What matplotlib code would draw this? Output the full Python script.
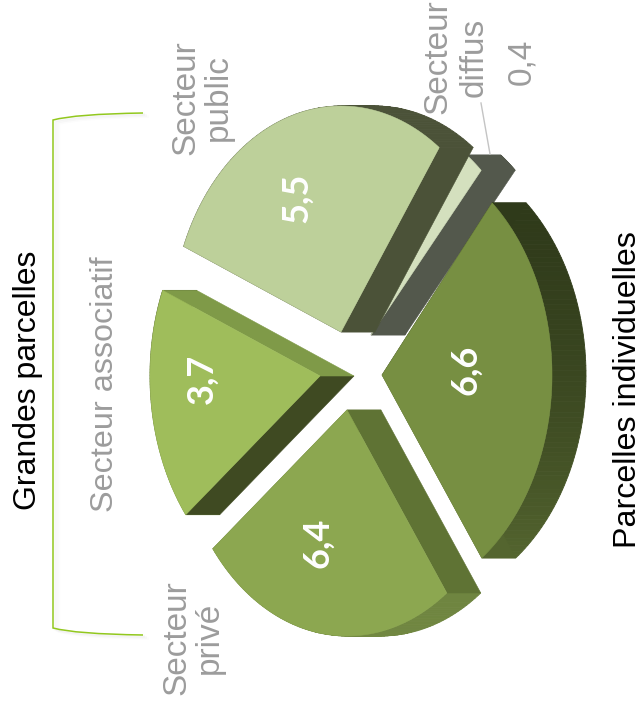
import numpy as np
import matplotlib
matplotlib.use('Agg')
import matplotlib.pyplot as plt
from matplotlib.colors import to_rgb
from matplotlib.patches import PathPatch, Polygon
from matplotlib.path import Path

plt.rcParams['font.family'] = ['Liberation Sans', 'DejaVu Sans']

# surfaces, in hectares
sectors = ['Parcelles individuelles', 'Secteur privé', 'Secteur associatif',
           'Secteur public', 'Secteur diffus']
values = [6.6, 6.4, 3.7, 5.5, 0.4]

# pie geometry (pixels)
W, H = 639, 713
rx, ry = 170, 226
depth = 34
start_angle = -49.6
foreshorten = [0.986, 0.864, 1.02, 1.176, 1.0]
apex = [(382, 375), (347, 410), (320, 376), (341, 332), (371, 335)]
radius = [1.0, 1.0, 1.0, 1.0, 0.975]
label_xy = [(466, 370), (318, 543), (202, 379), (297, 198), (522, 62)]

top_col = ['#778f42', '#8ca750', '#9fbd5b', '#bdd09a', '#d4e0be']
start_edge_col = ['#2f3a1a', '#5f7334', '#3f4a22', '#4b5238', '#53584c']
end_edge_col = ['#54652f', '#5f7334', '#7f9a48', '#4b5238', '#53584c']
arc_col = [('#2f3a1a', '#54652f'), ('#6f8540', '#7a9146'), ('#7f9a48', '#3f4a22'),
           ('#4b5238', '#4b5238'), ('#53584c', '#53584c')]
draw_order = [2, 1, 4, 3, 0]


def fmt(v):
    return ('%.1f' % v).replace('.', ',')


def arc_points(i, t0, t1, n=80):
    t = np.radians(np.linspace(t0, t1, n))
    x = apex[i][0] + radius[i] * rx * np.cos(t)
    y = apex[i][1] + radius[i] * ry * np.sin(t)
    return np.column_stack([x, y])


def draw_wedge(ax, i, t0, t1):
    pts = arc_points(i, t0, t1)
    ax0 = np.array(apex[i], dtype=float)
    shift = np.array([depth, 0])

    # curved outer wall, shaded strip by strip
    c0, c1 = np.array(to_rgb(arc_col[i][0])), np.array(to_rgb(arc_col[i][1]))
    for k in range(len(pts) - 1):
        # stays dark longer on the upper part of the wall
        c = c0 + (c1 - c0) * (k / (len(pts) - 2)) ** 1.6
        quad = [pts[k], pts[k + 1], pts[k + 1] + shift, pts[k] + shift]
        ax.add_patch(Polygon(quad, closed=True, fc=c, ec=c, lw=0.6))

    # the two flat cut walls
    for corner, col in [(pts[0], start_edge_col[i]), (pts[-1], end_edge_col[i])]:
        quad = [ax0, corner, corner + shift, ax0 + shift]
        ax.add_patch(Polygon(quad, closed=True, fc=col, ec=col, lw=0.4))

    # top face
    face = np.vstack([ax0, pts])
    ax.add_patch(Polygon(face, closed=True, fc=top_col[i], ec=top_col[i], lw=0.4))


fig = plt.figure(figsize=(W / 100, H / 100), dpi=100)
ax = fig.add_axes([0, 0, 1, 1])
ax.set_xlim(0, W)
ax.set_ylim(H, 0)
ax.axis('off')

spans = [v / sum(values) * 360 * f for v, f in zip(values, foreshorten)]
edges = start_angle + np.concatenate([[0], np.cumsum(spans)])

for i in draw_order:
    draw_wedge(ax, i, edges[i], edges[i + 1])

# value labels
for i in range(4):
    ax.text(label_xy[i][0], label_xy[i][1], fmt(values[i]), rotation=90, color='white',
            fontsize=26, fontweight='bold', family=['Lato', 'DejaVu Sans'],
            ha='center', va='center')
ax.text(label_xy[4][0], label_xy[4][1], fmt(values[4]), rotation=90, color='#9c9c9c',
        fontsize=24, ha='center', va='center')

# sector names
grey = '#9c9c9c'
ax.text(105, 384, 'Secteur associatif', rotation=90, color=grey, fontsize=23.3,
        ha='center', va='center')
ax.text(202, 98, 'Secteur\npublic', rotation=90, color=grey, fontsize=24,
        ha='center', va='center', linespacing=1.05, multialignment='center')
ax.text(456, 57, 'Secteur\ndiffus', rotation=90, color=grey, fontsize=24,
        ha='center', va='center', linespacing=1.2, multialignment='center')
ax.text(193, 638, 'Secteur\nprivé', rotation=90, color=grey, fontsize=24,
        ha='center', va='center', linespacing=1.05, multialignment='center')
ax.text(28, 380, 'Grandes parcelles', rotation=90, color='black', fontsize=23,
        ha='center', va='center')
ax.text(628, 390, 'Parcelles individuelles', rotation=90, color='black', fontsize=23.2,
        ha='center', va='center')

# leader line of the small slice
ax.plot([481, 490], [103, 154], color='#c4c4c4', lw=1)

# bracket around the large plots, with its soft shadow
codes = [Path.MOVETO, Path.CURVE3, Path.CURVE3, Path.LINETO, Path.CURVE3, Path.CURVE3]
verts = [(143, 113), (75, 114), (53, 120), (53, 628), (75, 634), (143, 635)]
for off, alpha in [(6, 0.012), (4, 0.018), (2, 0.025)]:
    shadow = [(x + off, y + off * 0.6) for x, y in verts]
    ax.add_patch(PathPatch(Path(shadow, codes), fc='none', ec='black', lw=2, alpha=alpha))
ax.add_patch(PathPatch(Path(verts, codes), fc='none', ec='#92c81e', lw=1.1))

fig.savefig('out.png', dpi=100, facecolor='white')
